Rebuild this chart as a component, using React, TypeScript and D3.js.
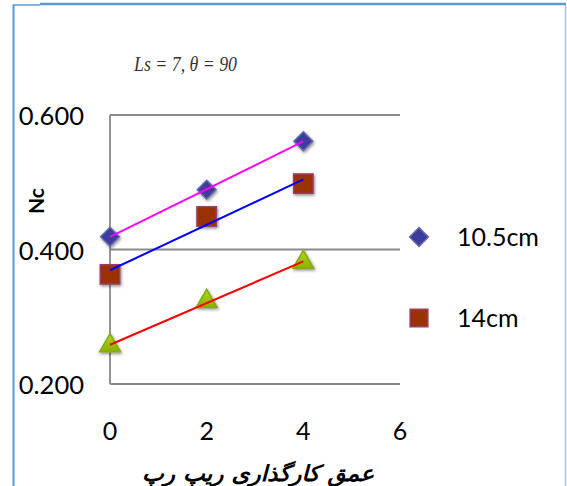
import React from "react";
import * as d3 from "d3";

// Depth of riprap placement (x) and Nc values for each series
const depths = [0, 2, 4];
const nc105 = [0.419, 0.489, 0.561];
const nc14 = [0.363, 0.449, 0.498];
const ncThird = [0.257, 0.323, 0.381];
const xTicks = [0, 2, 4, 6];
const yTicks = [0.2, 0.4, 0.6];
const legendLabels = ["10.5cm", "14cm"];

const W = 567;
const H = 486;

const x = d3.scaleLinear().domain([0, 6]).range([110, 400]);
const y = d3.scaleLinear().domain([0.2, 0.6]).range([384, 115]);

function fit(xs: number[], ys: number[]) {
  const mx = d3.mean(xs)!;
  const my = d3.mean(ys)!;
  const num = d3.sum(xs, (v, i) => (v - mx) * (ys[i] - my));
  const den = d3.sum(xs, (v) => (v - mx) * (v - mx));
  const slope = num / den;
  return { slope, intercept: my - slope * mx };
}

const diamond = d3.symbol().type(d3.symbolDiamond2).size(225)()!;
const square = d3.symbol().type(d3.symbolSquare2).size(480)()!;
const triangle = d3.symbol().type(d3.symbolTriangle2).size(310)()!;
const legendSquare = d3.symbol().type(d3.symbolSquare2).size(400)()!;

const series = [
  { values: nc105, path: diamond, fill: "#3c3c9c", stroke: "#6767b2", line: "#ff00ff" },
  { values: nc14, path: square, fill: "#993300", stroke: "#9b3c66", line: "#0000ff" },
  { values: ncThird, path: triangle, fill: "#99c400", stroke: "#88aa10", line: "#ff0000" },
];

const font = "Lato, 'Noto Sans', sans-serif";

export default function App() {
  return (
    <svg
      width={W}
      height={H}
      style={{ position: "absolute", left: 0, top: 0, background: "#fff" }}
    >
      <defs>
        <filter id="shadow" x="-50%" y="-50%" width="200%" height="200%">
          <feDropShadow dx="1" dy="1.5" stdDeviation="1.6" floodColor="#000" floodOpacity="0.45" />
        </filter>
        <linearGradient id="triFill" x1="0" y1="0" x2="0" y2="1">
          <stop offset="0" stopColor="#b0d820" />
          <stop offset="1" stopColor="#8cb000" />
        </linearGradient>
      </defs>

      {/* frame */}
      <line x1={13.5} y1={4.5} x2={13.5} y2={H} stroke="#5b9bd5" strokeWidth={2} />
      <line x1={14.5} y1={6} x2={14.5} y2={H} stroke="#a9c9ea" strokeWidth={1} />
      <line x1={13} y1={5} x2={40} y2={5} stroke="#5b9bd5" strokeWidth={1.5} />
      <line x1={40} y1={4} x2={566} y2={4} stroke="#5b9bd5" strokeWidth={2.5} />
      <line x1={565.5} y1={5} x2={565.5} y2={H} stroke="#9dc3e6" strokeWidth={1.5} />

      {/* title */}
      <text
        x={134}
        y={71}
        fontFamily="'Liberation Serif', serif"
        fontStyle="italic"
        fontSize={20}
        fill="#333"
        textLength={103}
        lengthAdjust="spacingAndGlyphs"
      >
        Ls = 7, θ = 90
      </text>

      {/* gridlines and axes */}
      {yTicks.map((t) => (
        <line
          key={t}
          x1={x(0)}
          x2={x(6)}
          y1={y(t)}
          y2={y(t)}
          stroke="#8a8a8a"
          strokeWidth={1.8}
        />
      ))}
      <line x1={x(0)} x2={x(0)} y1={y(0.6)} y2={y(0.2)} stroke="#8a8a8a" strokeWidth={1.8} />

      {yTicks.map((t) => (
        <text
          key={t}
          x={84}
          y={y(t) + 10}
          textAnchor="end"
          fontFamily={font}
          fontSize={25.5}
          fill="#000"
        >
          {d3.format(".3f")(t)}
        </text>
      ))}
      {xTicks.map((t) => (
        <text
          key={t}
          x={x(t)}
          y={440}
          textAnchor="middle"
          fontFamily={font}
          fontSize={25}
          fill="#000"
        >
          {t}
        </text>
      ))}

      <text
        transform="translate(44,201) rotate(-90)"
        textAnchor="middle"
        fontFamily={font}
        fontWeight="bold"
        fontSize={21}
        fill="#000"
      >
        Nc
      </text>

      <text
        x={258}
        y={481}
        textAnchor="middle"
        direction="rtl"
        fontFamily="'DejaVu Sans', sans-serif"
        fontWeight="bold"
        fontStyle="italic"
        fontSize={22}
        fill="#000"
        textLength={232}
        lengthAdjust="spacingAndGlyphs"
      >
        عمق کارگذاری ریپ رپ
      </text>

      {/* markers */}
      {series.map((s, si) =>
        s.values.map((v, i) => (
          <path
            key={`${si}-${i}`}
            d={s.path}
            transform={`translate(${x(depths[i])},${y(v)})`}
            fill={si === 2 ? "url(#triFill)" : s.fill}
            stroke={s.stroke}
            strokeWidth={1.5}
            filter="url(#shadow)"
          />
        ))
      )}

      {/* linear trendlines */}
      {series.map((s, si) => {
        const { slope, intercept } = fit(depths, s.values);
        const ends = [0, 4];
        const d = d3
          .line<number>()
          .x((t) => x(t))
          .y((t) => y(intercept + slope * t))(ends)!;
        return <path key={si} d={d} stroke={s.line} strokeWidth={2} fill="none" />;
      })}

      {/* legend */}
      {legendLabels.map((lab, i) => (
        <g key={lab} transform={`translate(419,${237 + i * 81})`}>
          <path
            d={i === 0 ? diamond : legendSquare}
            fill={series[i].fill}
            stroke={series[i].stroke}
            strokeWidth={1.5}
          />
          <text x={38} y={9} fontFamily={font} fontSize={25} fill="#000">
            {lab}
          </text>
        </g>
      ))}
    </svg>
  );
}
